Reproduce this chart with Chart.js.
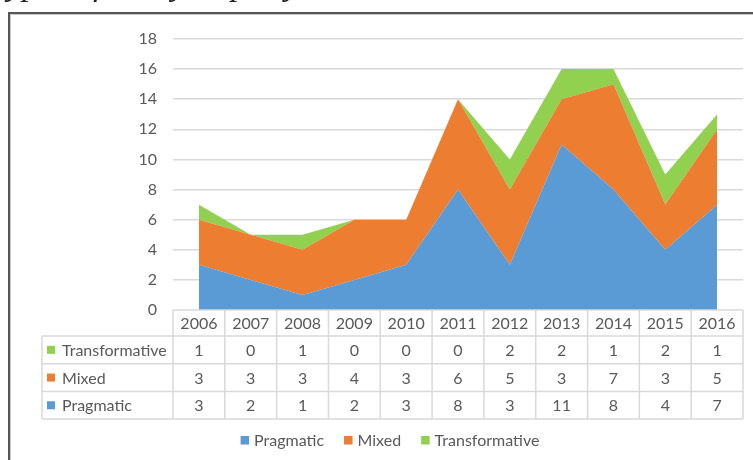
<!DOCTYPE html>
<html>
<head>
<meta charset="utf-8">
<script src="https://cdn.jsdelivr.net/npm/chart.js@4.4.1/dist/chart.umd.min.js"></script>
<style>
  html, body { margin: 0; padding: 0; background: #fff; }
  #wrap { position: relative; width: 753px; height: 460px; }
</style>
</head>
<body>
<div id="wrap"><canvas id="area" width="753" height="460"></canvas></div>
<script>
const years = ["2006", "2007", "2008", "2009", "2010", "2011", "2012", "2013", "2014", "2015", "2016"];
const pragmatic = [3, 2, 1, 2, 3, 8, 3, 11, 8, 4, 7];
const mixed = [3, 3, 3, 4, 3, 6, 5, 3, 7, 3, 5];
const transformative = [1, 0, 1, 0, 0, 0, 2, 2, 1, 2, 1];
const yTicks = [0, 2, 4, 6, 8, 10, 12, 14, 16, 18];

const FONT = "Lato, 'Open Sans', sans-serif";
const TEXT = "#595959";
const GRID = "#d9d9d9";

const ctx = document.getElementById("area");

// frame + the cut-off caption line above it
const framePlugin = {
  id: "frame",
  beforeDraw(chart) {
    const c = chart.ctx;
    c.save();
    c.fillStyle = "#222";
    c.font = "italic 34px 'Liberation Serif', serif";
    c.textBaseline = "alphabetic";
    c.fillText("Types of analysis per year", -9, -5);
    c.strokeStyle = "#c8c8c8";
    c.lineWidth = 1;
    c.beginPath();
    c.moveTo(10.5, 460);
    c.lineTo(10.5, 14.5);
    c.lineTo(753, 14.5);
    c.stroke();
    c.strokeStyle = "#555";
    c.lineWidth = 2;
    c.beginPath();
    c.moveTo(9, 460);
    c.lineTo(9, 13);
    c.lineTo(753, 13);
    c.stroke();
    c.restore();
  },
};

// Excel style data table under the plot, plus the legend
const tablePlugin = {
  id: "dataTable",
  afterDraw(chart) {
    const c = chart.ctx;
    const x = chart.scales.x;
    const ca = chart.chartArea;
    const n = years.length;
    const step = x.getPixelForValue(1) - x.getPixelForValue(0);
    const colLeft = x.getPixelForValue(0) - step / 2;
    const colRight = x.getPixelForValue(n - 1) + step / 2;
    const labelLeft = 42;
    const top = ca.bottom;
    const headH = 26;
    const rowH = 27.7;
    const rows = [
      { label: "Transformative", data: transformative, color: "#92D050" },
      { label: "Mixed", data: mixed, color: "#ED7D31" },
      { label: "Pragmatic", data: pragmatic, color: "#5B9BD5" },
    ];
    const bottom = top + headH + rowH * rows.length;

    c.save();
    c.strokeStyle = GRID;
    c.lineWidth = 1.5;
    c.beginPath();
    c.moveTo(colLeft, top);
    c.lineTo(colRight, top);
    for (let r = 0; r <= rows.length; r++) {
      const y = top + headH + rowH * r;
      c.moveTo(labelLeft, y);
      c.lineTo(colRight, y);
    }
    c.moveTo(labelLeft, top + headH);
    c.lineTo(labelLeft, bottom);
    for (let k = 0; k <= n; k++) {
      const xx = colLeft + step * k;
      c.moveTo(xx, top);
      c.lineTo(xx, bottom);
    }
    c.stroke();

    c.fillStyle = TEXT;
    c.font = "16px " + FONT;
    c.textAlign = "center";
    c.textBaseline = "middle";
    years.forEach((yr, i) => c.fillText(yr, x.getPixelForValue(i), top + headH / 2 + 1));
    rows.forEach((row, r) => {
      const cy = top + headH + rowH * r + rowH / 2 + 1;
      c.textAlign = "center";
      c.fillStyle = TEXT;
      row.data.forEach((v, i) => c.fillText(String(v), x.getPixelForValue(i), cy));
      c.fillStyle = row.color;
      c.fillRect(47, cy - 5, 8, 8);
      c.fillStyle = TEXT;
      c.textAlign = "left";
      c.fillText(row.label, 62, cy);
    });

    // legend
    const items = chart.data.datasets.map((d) => ({ label: d.label, color: d.backgroundColor }));
    const box = 8.5, gapText = 5, gapItem = 20;
    const widths = items.map((it) => box + gapText + c.measureText(it.label).width);
    const total = widths.reduce((a, b) => a + b, 0) + gapItem * (items.length - 1);
    let lx = 390 - total / 2;
    const ly = 440.5;
    c.textAlign = "left";
    items.forEach((it, i) => {
      c.fillStyle = it.color;
      c.fillRect(lx, ly - 4.5, box, box);
      c.fillStyle = TEXT;
      c.fillText(it.label, lx + box + gapText, ly);
      lx += widths[i] + gapItem;
    });
    c.restore();
  },
};

new Chart(ctx, {
  type: "line",
  data: {
    labels: years,
    datasets: [
      { label: "Pragmatic", data: pragmatic, backgroundColor: "#5B9BD5", fill: "origin" },
      { label: "Mixed", data: mixed, backgroundColor: "#ED7D31", fill: "-1" },
      { label: "Transformative", data: transformative, backgroundColor: "#92D050", fill: "-1" },
    ],
  },
  options: {
    responsive: false,
    animation: false,
    layout: { padding: { left: 0, right: 10, top: 39, bottom: 150 } },
    elements: {
      line: { tension: 0, borderWidth: 0, borderColor: "rgba(0,0,0,0)" },
      point: { radius: 0, hoverRadius: 0 },
    },
    scales: {
      x: { display: false, offset: true },
      y: {
        stacked: true,
        min: 0,
        max: 18,
        afterFit: (s) => { s.width = 173; },
        afterBuildTicks: (s) => { s.ticks = yTicks.map((v) => ({ value: v })); },
        border: { display: false },
        grid: {
          color: (c) => (c.tick && c.tick.value === 0 ? "rgba(0,0,0,0)" : GRID),
          lineWidth: 1.5,
          drawTicks: false,
        },
        ticks: { color: TEXT, font: { family: FONT, size: 16 }, padding: 16 },
      },
    },
    plugins: { legend: { display: false }, tooltip: { enabled: false } },
  },
  plugins: [framePlugin, tablePlugin],
});
</script>
</body>
</html>
